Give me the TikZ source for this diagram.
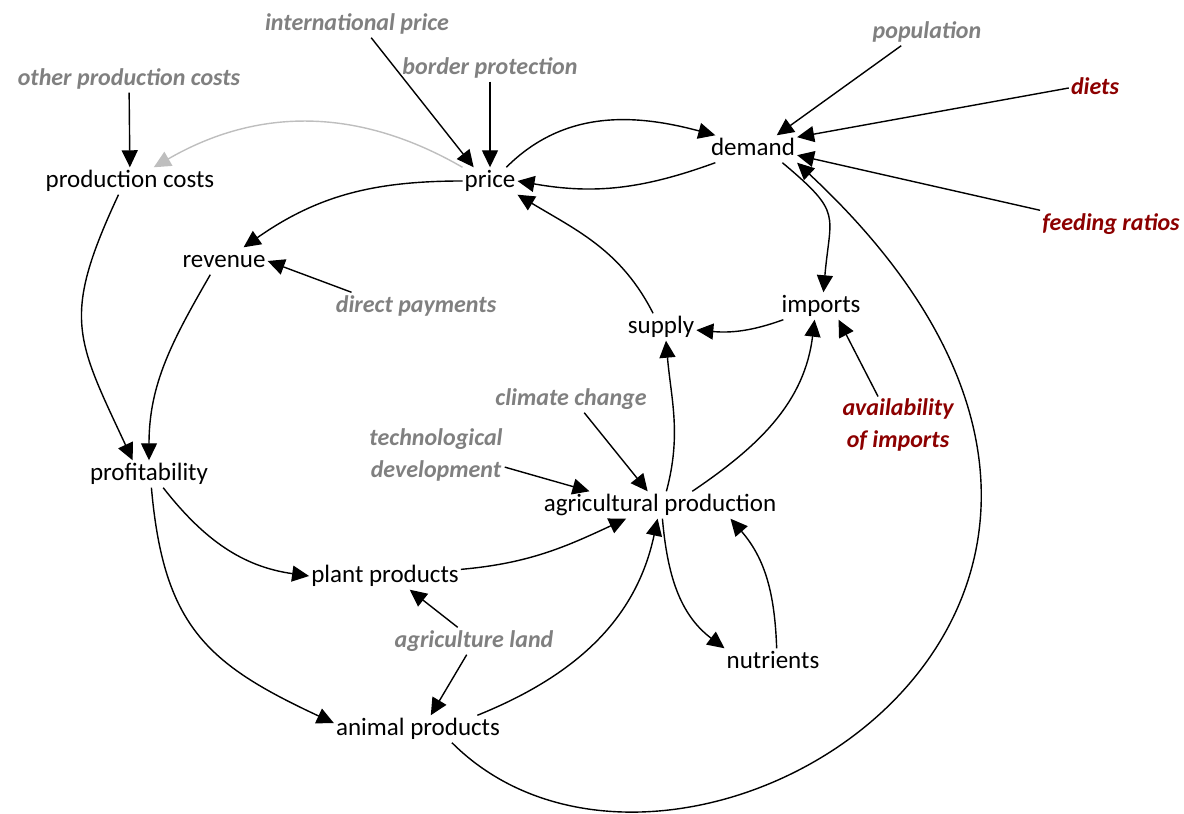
\documentclass[tikz,border=0pt]{standalone}
\usepackage{fontspec}
\setmainfont{Carlito}
\usetikzlibrary{arrows.meta}
\definecolor{labgray}{RGB}{128,128,128}
\definecolor{polred}{RGB}{140,0,0}
\definecolor{arrowgray}{RGB}{190,190,190}

\begin{document}
\begin{tikzpicture}[x=1pt, y=1pt,
  >={Triangle[length=17pt,width=16pt]},
  var/.style={font=\fontsize{25}{30}\selectfont, inner sep=2pt, text height=18pt, text depth=5pt},
  lbl/.style={font=\fontsize{24}{32}\selectfont\bfseries\itshape, text=labgray, inner sep=2pt},
  ext/.style={lbl, text height=18pt, text depth=5pt},
  pol/.style={ext, text=polred},
  link/.style={->, line width=1.4pt}]
\useasboundingbox (0,0) rectangle (1184,814);

% outside influences
\node[ext] (opc) at (129,735) {other production costs};
\node[ext] (intl) at (357,790) {international price};
\node[ext] (bp) at (490,746) {border protection};
\node[ext] (pop) at (927,782) {population};
\node[pol] (diets) at (1095,726) {diets};
\node[pol] (feed) at (1111,590) {feeding ratios};
\node[ext] (dp) at (416,508) {direct payments};
\node[ext] (climate) at (571,415) {climate change};
\node[lbl, align=center] (tech) at (436,359) {technological\\development};
\node[lbl, text=polred, align=center] (avail) at (898,389) {availability\\of imports};
\node[ext] (land) at (474,173) {agriculture land};

% system variables
\node[var] (pc) at (130,633) {production costs};
\node[var] (price) at (490,633) {price};
\node[var] (demand) at (753,665) {demand};
\node[var] (revenue) at (224,553) {revenue};
\node[var] (imports) at (821,508) {imports};
\node[var] (supply) at (661,487) {supply};
\node[var] (profit) at (149,340) {profitability};
\node[var] (agri) at (660,309) {agricultural production};
\node[var] (plant) at (385,238) {plant products};
\node[var] (nutr) at (773,152) {nutrients};
\node[var] (animal) at (418,85) {animal products};

% straight influences
\draw[link] (opc) -- (pc);
\draw[link] (intl.-44) -- (price.140);
\draw[link] (bp) -- (price);
\draw[link] (pop.208) -- (demand.30);
\draw[link] (diets.west) -- (demand.15);
\draw[link] (feed.north west) -- (demand.-8);
\draw[link] (dp.168) -- (revenue.east);
\draw[link] (avail.125) -- (imports.-38);
\draw[link] (climate.-46) -- (agri.132);
\draw[link] (tech.-10) -- (agri.169);
\draw[link] (land.140) -- (plant.-29);
\draw[link] (land.242) -- (animal.47);

% feedback links
\draw[link, arrowgray] (price.north west) to[out=150, in=30] (pc.30);
\draw[link] (price.40) to[out=45, in=165] (demand.160);
\draw[link] (demand.200) to[out=200, in=-10] (price.east);
\draw[link] (price.west) to[out=180, in=35] (revenue.35);
\draw[link] (pc.230) to[out=245, in=115, looseness=1.3] (profit.140);
\draw[link] (revenue.225) to[out=240, in=90] (profit.north);
\draw[link] (supply.120) to[out=117, in=-31] (price.south east);
\draw[link] (imports.200) to[out=200, in=-5] (supply.-5);
\draw[link] (demand.-25) to[out=-40, in=85, looseness=1.5] (imports.80);
\draw[link] (agri.23) to[out=34, in=-97] (imports.-115);
\draw[link] (agri.65) to[out=75, in=-85] (supply.-70);
\draw[link] (plant.5) to[out=5, in=205] (agri.202);
\draw[link] (animal.13) to[out=22, in=-102] (agri.-100);
\draw[link] (agri.-80) to[out=-85, in=143] (nutr.north west);
\draw[link] (nutr.75) to[out=92, in=-49] (agri.-11);
\draw[link] (profit.-44) to[out=-52, in=172] (plant.west);
\draw[link] (profit.-80) to[out=-85, in=155, looseness=1.2] (animal.176);
\draw[link] (animal.-22) .. controls +(-45:320) and +(-43:650) .. (demand.south east);
\end{tikzpicture}
\end{document}
